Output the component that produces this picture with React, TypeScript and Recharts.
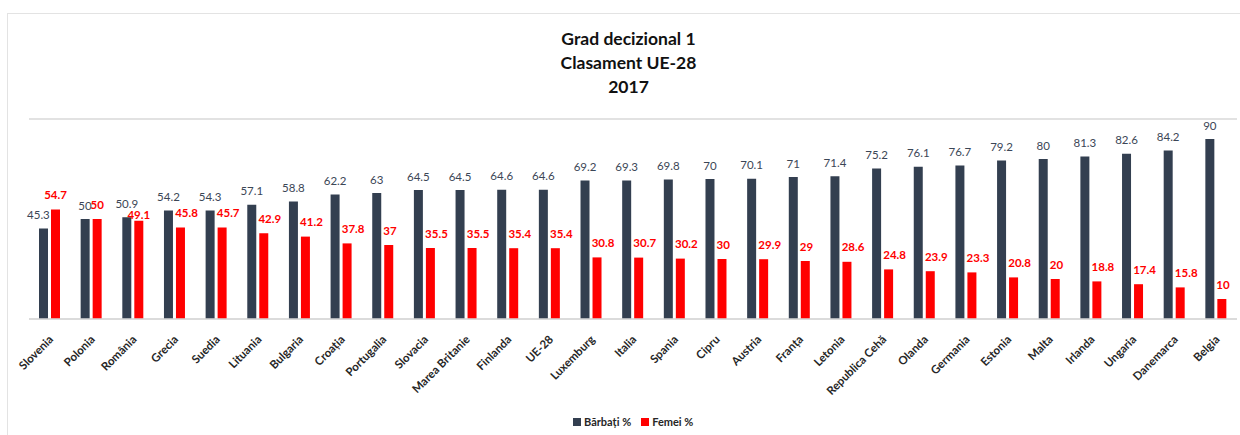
import React from "react";
import { BarChart, Bar, XAxis, YAxis, CartesianGrid } from "recharts";

const categories = [
  "Slovenia", "Polonia", "România", "Grecia", "Suedia", "Lituania", "Bulgaria", "Croația",
  "Portugalia", "Slovacia", "Marea Britanie", "Finlanda", "UE-28", "Luxemburg", "Italia",
  "Spania", "Cipru", "Austria", "Franța", "Letonia", "Republica Cehă", "Olanda", "Germania",
  "Estonia", "Malta", "Irlanda", "Ungaria", "Danemarca", "Belgia",
];
const barbati = [
  45.3, 50, 50.9, 54.2, 54.3, 57.1, 58.8, 62.2, 63, 64.5, 64.5, 64.6, 64.6, 69.2, 69.3,
  69.8, 70, 70.1, 71, 71.4, 75.2, 76.1, 76.7, 79.2, 80, 81.3, 82.6, 84.2, 90,
];
const femei = [
  54.7, 50, 49.1, 45.8, 45.7, 42.9, 41.2, 37.8, 37, 35.5, 35.5, 35.4, 35.4, 30.8, 30.7,
  30.2, 30, 29.9, 29, 28.6, 24.8, 23.9, 23.3, 20.8, 20, 18.8, 17.4, 15.8, 10,
];
const yTicks = [0, 10, 20, 30, 40, 50, 60, 70, 80, 90, 100];
const titleLines = ["Grad decizional 1", "Clasament UE-28", "2017"];
const seriesNames = ["Bărbați %", "Femei %"];

const data = categories.map((c, i) => ({ name: c, b: barbati[i], f: femei[i] }));

const FONT = "Lato, 'Open Sans', sans-serif";
const DARK = "#333F50";
const RED = "#FF0000";
const LABEL_FS = 11.5;
const GAP = 3;

const textWidth = (s: string) =>
  s.split("").reduce((w, ch) => w + (ch === "." ? 0.27 : 0.58) * LABEL_FS, 0);

const XTick = (props: any) => {
  const { x, y, payload } = props;
  const ax = x + 1;
  const ay = y + 10;
  return (
    <text
      x={ax}
      y={ay}
      transform={`rotate(-45, ${ax}, ${ay})`}
      textAnchor="end"
      dominantBaseline="central"
      fontFamily={FONT}
      fontWeight={700}
      fontSize={11.5}
      fill="#262626"
    >
      {payload.value}
    </text>
  );
};

const darkLabel = (props: any) => {
  const { x, y, width, index, value } = props;
  const s = String(value);
  const w = textWidth(s);
  let cx = x + width / 2;
  if (femei[index] >= barbati[index]) {
    const redLeft = x + width + GAP;
    cx = Math.min(cx + w / 2, redLeft - 1) - w / 2;
  }
  return (
    <text
      key={`d${index}`}
      x={cx}
      y={y - 14}
      textAnchor="middle"
      dominantBaseline="central"
      fontFamily={FONT}
      fontSize={LABEL_FS}
      fill="#3B4656"
    >
      {s}
    </text>
  );
};

const redLabel = (props: any) => {
  const { x, y, width, index, value } = props;
  const s = String(value);
  const w = textWidth(s);
  let cx = x + width / 2;
  let cy = y - 15;
  const diff = barbati[index] - femei[index];
  if (diff > 0 && diff < 5) {
    cy = y - 6;
  } else if (diff >= 5) {
    const darkRight = x - GAP;
    cx = Math.max(cx - w / 2, darkRight + 2) + w / 2;
  }
  return (
    <text
      key={`r${index}`}
      x={cx}
      y={cy}
      textAnchor="middle"
      dominantBaseline="central"
      fontFamily={FONT}
      fontSize={LABEL_FS}
      fontWeight={700}
      fill={RED}
    >
      {s}
    </text>
  );
};

export default function App() {
  return (
    <div
      style={{
        position: "fixed",
        left: 0,
        top: 0,
        width: 1240,
        height: 435,
        overflow: "hidden",
        background: "#fff",
        fontFamily: FONT,
      }}
    >
      <div
        style={{
          position: "absolute",
          left: 7,
          top: 13,
          width: 1300,
          height: 500,
          border: "1px solid #e3e3e3",
          boxSizing: "border-box",
        }}
      />
      <div
        style={{
          position: "absolute",
          left: 0,
          top: 27,
          width: 1257,
          textAlign: "center",
          fontWeight: 700,
          fontSize: 17.5,
          lineHeight: "24px",
          color: "#111",
        }}
      >
        {titleLines.map((t) => (
          <div key={t}>{t}</div>
        ))}
      </div>
      <div style={{ position: "absolute", left: 0, top: 0 }}>
        <BarChart
          width={1240}
          height={435}
          data={data}
          margin={{ top: 119, right: 3, left: 29, bottom: 0 }}
          barSize={9}
          barGap={GAP}
        >
          <CartesianGrid vertical={false} stroke="#d9d9d9" strokeWidth={1.3} />
          <YAxis
            domain={[0, 100]}
            ticks={yTicks}
            width={0}
            axisLine={false}
            tickLine={false}
            tick={false}
          />
          <XAxis
            dataKey="name"
            interval={0}
            height={116}
            axisLine={{ stroke: "#d9d9d9", strokeWidth: 1.3 }}
            tickLine={false}
            tick={<XTick />}
          />
          <Bar dataKey="b" fill={DARK} isAnimationActive={false} label={darkLabel} />
          <Bar dataKey="f" fill={RED} isAnimationActive={false} label={redLabel} />
        </BarChart>
      </div>
      <div
        style={{
          position: "absolute",
          left: 573,
          top: 415,
          display: "flex",
          alignItems: "center",
          fontSize: 11,
          fontWeight: 700,
          color: "#262626",
        }}
      >
        <span style={{ width: 8, height: 8, background: DARK, display: "inline-block", marginRight: 3 }} />
        <span style={{ marginRight: 10 }}>{seriesNames[0]}</span>
        <span style={{ width: 8, height: 8, background: RED, display: "inline-block", marginRight: 3 }} />
        <span>{seriesNames[1]}</span>
      </div>
    </div>
  );
}
